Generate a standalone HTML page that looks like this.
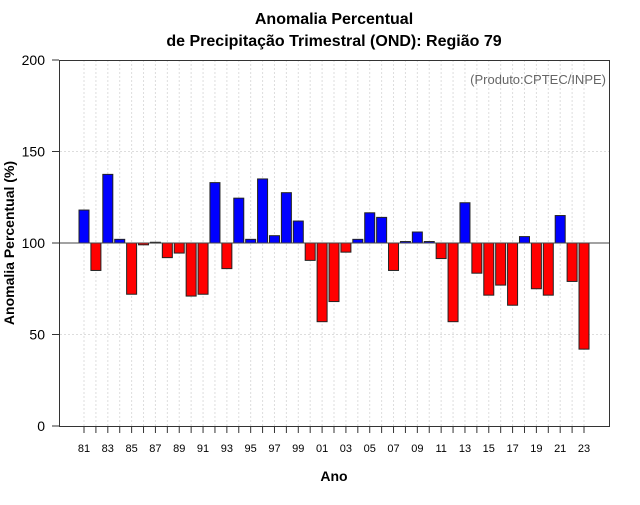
<!DOCTYPE html>
<html><head><meta charset="utf-8"><style>
body{margin:0;background:#fff;width:640px;height:500px;overflow:hidden}
svg{font-family:"Liberation Sans",sans-serif}
</style></head><body>
<svg id="chart" width="640" height="500">
<text x="334" y="24" text-anchor="middle" font-size="16" font-weight="bold">Anomalia Percentual</text>
<text x="334" y="46" text-anchor="middle" font-size="16" font-weight="bold">de Precipitação Trimestral (OND): Região 79</text>
<text x="334" y="481" text-anchor="middle" font-size="14" font-weight="bold">Ano</text>
<text transform="translate(14,243) rotate(-90)" text-anchor="middle" font-size="14" font-weight="bold">Anomalia Percentual (%)</text>
<g id="grid"></g><g id="bars"></g><g id="axes"></g>
<rect x="59.5" y="60.5" width="550" height="366" fill="none" stroke="#333"/>
<text x="606" y="84" text-anchor="end" font-size="13" fill="#666">(Produto:CPTEC/INPE)</text>
</svg>
<script>
const years=[];for(let y=1981;y<=2023;y++)years.push(y);
const values=[118,85,137.5,102,72,99,100.4,92,94.5,71,72,133,86,124.5,102,135,104,127.5,112,90.5,57,68,95,102,116.5,114,85,100.8,106,100.8,91.5,57,122,83.5,71.5,77,66,103.5,75,71.5,115,79,42];
const yTicks=[0,50,100,150,200];
const NS="http://www.w3.org/2000/svg";
const X=i=>84+i*11.905, Y=v=>426-v*1.83;
function el(t,a,p){const e=document.createElementNS(NS,t);for(const k in a)e.setAttribute(k,a[k]);p.appendChild(e);return e;}
const grid=document.getElementById('grid'),bars=document.getElementById('bars'),axes=document.getElementById('axes');
years.forEach((yr,i)=>{
  const g=el('line',{x1:X(i),x2:X(i),y1:60,y2:426,stroke:'#ddd','stroke-dasharray':'2,2'},grid);
  
  
  const t=el('line',{x1:X(i),x2:X(i),y1:426,y2:433,stroke:'#333'},axes);
  
  
  if(yr%2===1){const l=el('text',{x:X(i),y:452,'text-anchor':'middle','font-size':'11'},axes);l.textContent=String(yr%100).padStart(2,'0');
  
  }
});
yTicks.forEach(v=>{
  if(v!==0&&v!==200){const g=el('line',{x1:60,x2:609,y1:Y(v),y2:Y(v),stroke:'#ddd','stroke-dasharray':'2,2'},grid);
  
  }
  const t=el('line',{x1:52,x2:59,y1:Y(v),y2:Y(v),stroke:'#333'},axes);
  
  
  const l=el('text',{x:45,y:Y(v)+5,'text-anchor':'end','font-size':'14'},axes);l.textContent=v;
  
  
});
values.forEach((v,i)=>{
  const top=Math.min(Y(v),Y(100)),h=Math.abs(Y(v)-Y(100));
  const b=el('rect',{x:X(i)-5,y:top,width:10,height:Math.max(h,0.8),fill:v>=100?'#0000ff':'#ff0000',stroke:'#222','stroke-width':1},bars);
  
  
});
const base=el('line',{x1:60,x2:609,y1:Y(100),y2:Y(100),stroke:'#444'},bars);


</script>
</body></html>
